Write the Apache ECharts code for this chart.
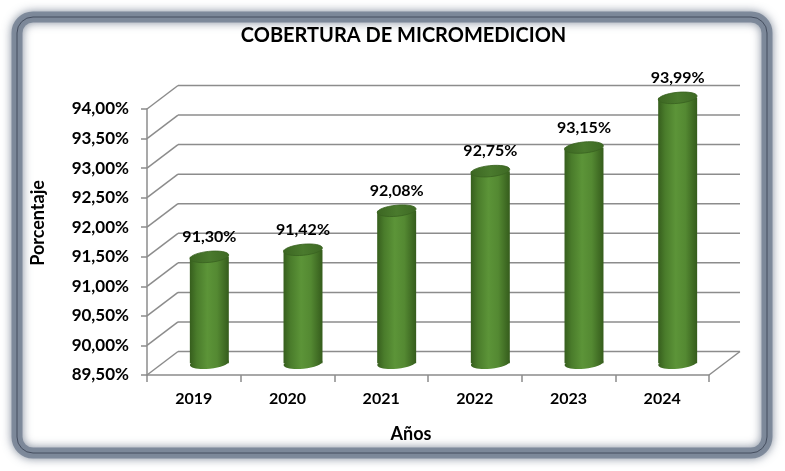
<!DOCTYPE html>
<html>
<head>
<meta charset="utf-8">
<script src="https://cdn.jsdelivr.net/npm/echarts@6/dist/echarts.min.js"></script>
<style>
html,body{margin:0;padding:0;background:#fff;}
#c{width:785px;height:471px;}
</style>
</head>
<body>
<div id="c"></div>
<script>
var years = ['2019', '2020', '2021', '2022', '2023', '2024'];
var coverage = [91.30, 91.42, 92.08, 92.75, 93.15, 93.99];
var yTicks = [89.5, 90.0, 90.5, 91.0, 91.5, 92.0, 92.5, 93.0, 93.5, 94.0];
var titleText = 'COBERTURA DE MICROMEDICION';
var xName = 'Años';
var yName = 'Porcentaje';

var DX = 31, DY = -23.5;
var FONT = 'Lato, "Liberation Sans", sans-serif';
var GRID_COLOR = '#8c8c8c';

function pct(v) { return v.toFixed(2).replace('.', ',') + '%'; }

var chart = echarts.init(document.getElementById('c'), null, {renderer: 'canvas'});

var option = {
  backgroundColor: '#ffffff',
  animation: false,
  grid: {left: 147, right: 76, top: 109, bottom: 96, containLabel: false},
  xAxis: {
    type: 'category',
    data: years,
    boundaryGap: true,
    axisLine: {show: true, lineStyle: {color: GRID_COLOR, width: 1.5}},
    axisTick: {show: true, length: 7, lineStyle: {color: GRID_COLOR, width: 1.5}},
    axisLabel: {color: '#000', fontFamily: FONT, fontWeight: 'bold', fontSize: 16, margin: 16},
    splitLine: {show: false}
  },
  yAxis: {
    type: 'value',
    min: yTicks[0],
    max: yTicks[yTicks.length - 1],
    interval: 0.5,
    axisLine: {show: true, lineStyle: {color: GRID_COLOR, width: 1.5}},
    axisTick: {show: true, length: 6, lineStyle: {color: GRID_COLOR, width: 1.5}},
    axisLabel: {color: '#000', fontFamily: FONT, fontWeight: 'bold', fontSize: 17, margin: 18, formatter: pct},
    splitLine: {show: false}
  },
  graphic: [
    {
      type: 'rect', z: -10, silent: true,
      shape: {x: 17, y: 17, width: 750, height: 436, r: 16},
      style: {fill: 'none', stroke: 'rgba(120,132,150,0.9)', lineWidth: 11, shadowBlur: 10, shadowColor: 'rgba(100,112,132,0.9)'}
    },
    {
      type: 'rect', z: -9, silent: true,
      shape: {x: 17, y: 17, width: 750, height: 436, r: 16},
      style: {fill: 'none', stroke: '#454e5f', lineWidth: 1}
    },
    {
      type: 'text', silent: true,
      style: {text: titleText, x: 403.5, y: 36, align: 'center', verticalAlign: 'middle',
        fill: '#000', font: 'bold 20px ' + FONT}
    },
    {
      type: 'text', silent: true,
      style: {text: xName, x: 411, y: 434, align: 'center', verticalAlign: 'middle',
        fill: '#000', font: 'bold 18px ' + FONT}
    },
    {
      type: 'text', silent: true, x: 38, y: 223, rotation: Math.PI / 2,
      style: {text: yName, x: 0, y: 0, align: 'center', verticalAlign: 'middle',
        fill: '#000', font: 'bold 18px ' + FONT}
    }
  ],
  series: [
    {
      type: 'custom',
      name: 'walls',
      z: 1,
      silent: true,
      data: yTicks.map(function (t) { return [0, t]; }),
      renderItem: function (params, api) {
        var cs = params.coordSys;
        var p = api.coord([0, api.value(1)]);
        var y = p[1];
        var left = cs.x, right = cs.x + cs.width;
        var ls = {stroke: GRID_COLOR, lineWidth: 1.5};
        var children = [
          {type: 'line', shape: {x1: left + DX, y1: y + DY, x2: right + DX, y2: y + DY}, style: ls},
          {type: 'line', shape: {x1: left, y1: y, x2: left + DX, y2: y + DY}, style: ls}
        ];
        if (params.dataIndex === 0) {
          children.push({type: 'line', shape: {x1: right, y1: y, x2: right + DX, y2: y + DY}, style: ls});
        }
        return {type: 'group', children: children};
      }
    },
    {
      type: 'custom',
      name: 'Cobertura',
      z: 3,
      data: coverage.map(function (v, i) { return [i, v]; }),
      renderItem: function (params, api) {
        var idx = api.value(0), val = api.value(1);
        var top = api.coord([idx, val]);
        var base = api.coord([idx, yTicks[0]]);
        var band = api.size([1, 0])[0];
        var rx = band * 0.208, ry = 5.5;
        var cx = top[0] + DX / 2;
        var ty = top[1] + DY / 2;
        var by = base[1] + DY / 2;
        var bodyFill = new echarts.graphic.LinearGradient(0, 0, 1, 0, [
          {offset: 0, color: '#365e1d'},
          {offset: 0.18, color: '#4a7c2b'},
          {offset: 0.45, color: '#5c9438'},
          {offset: 0.7, color: '#548932'},
          {offset: 1, color: '#355c1c'}
        ]);
        var topFill = new echarts.graphic.LinearGradient(0, 0, 1, 0, [
          {offset: 0, color: '#3c6622'},
          {offset: 0.5, color: '#4a7a2d'},
          {offset: 1, color: '#3e6924'}
        ]);
        var tilt = 0.1;
        return {
          type: 'group',
          children: [
            {type: 'ellipse', shape: {cx: 0, cy: 0, rx: rx, ry: ry}, x: cx, y: by, rotation: tilt,
              style: {fill: bodyFill}},
            {type: 'rect', shape: {x: cx - rx, y: ty, width: rx * 2, height: by - ty}, style: {fill: bodyFill}},
            {type: 'ellipse', shape: {cx: 0, cy: 0, rx: rx, ry: ry}, x: cx, y: ty, rotation: tilt,
              style: {fill: topFill, stroke: '#3a6321', lineWidth: 0.8}},
            {type: 'text', style: {text: pct(val), x: cx, y: ty - 20, align: 'center', verticalAlign: 'middle',
              fill: '#000', font: 'bold 16px ' + FONT}}
          ]
        };
      }
    }
  ]
};

chart.setOption(option);
</script>
</body>
</html>
